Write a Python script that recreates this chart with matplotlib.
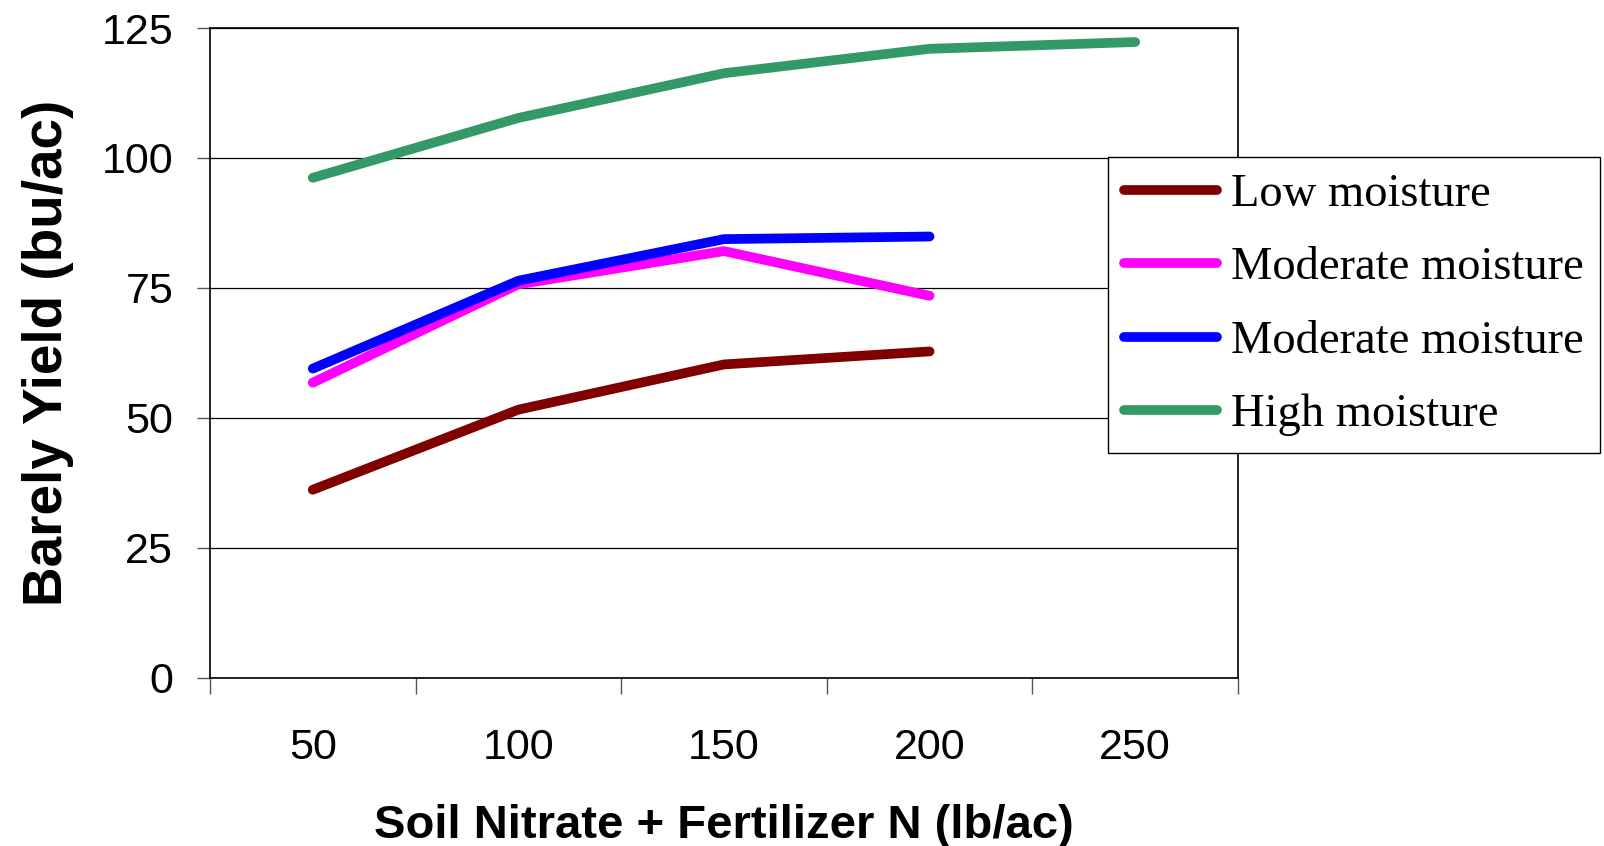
import numpy as np
import matplotlib
matplotlib.use('Agg')
from matplotlib import pyplot as plt
from matplotlib.ticker import FixedLocator

# data
n_rates = ['50', '100', '150', '200', '250']
low = [36.2, 51.6, 60.3, 62.8]
moderate_a = [56.8, 75.7, 82.1, 73.5]
moderate_b = [59.5, 76.4, 84.4, 84.9]
high = [96.2, 107.7, 116.3, 121.0, 122.3]

series_names = ['Low moisture', 'Moderate moisture', 'Moderate moisture', 'High moisture']
series_colors = ['#800000', '#FF00FF', '#0000FF', '#339966']
yticks = [0, 25, 50, 75, 100, 125]

fig = plt.figure(figsize=(16.04, 8.46), dpi=100)
ax = fig.add_axes([0.1309, 0.1986, 0.6409, 0.7683])

for vals, name, col in zip([low, moderate_a, moderate_b, high], series_names, series_colors):
    ax.plot(np.arange(len(vals)), vals, color=col, lw=7, label=name,
            solid_capstyle='round', solid_joinstyle='round', zorder=3)

ax.set_xlim(-0.5, len(n_rates) - 0.5)
ax.set_ylim(0, 125)
ax.set_yticks(yticks)
ax.set_xticks(np.arange(len(n_rates)))
ax.set_xticklabels(n_rates)
ax.xaxis.set_minor_locator(FixedLocator(np.arange(len(n_rates) + 1) - 0.5))

ax.tick_params(axis='x', which='major', length=0, pad=36, labelsize=31,
               labelfontfamily='Liberation Sans')
ax.tick_params(axis='x', which='minor', length=11.5, width=1, color='#555555', direction='out')
ax.tick_params(axis='y', which='major', length=9.5, width=1, direction='out', pad=17,
               labelsize=31, labelfontfamily='Liberation Sans', color='#555555')

ax.grid(axis='y', color='black', lw=0.9, zorder=1)
for s in ax.spines.values():
    s.set_color('black')
    s.set_linewidth(1.2)

ax.set_xlabel('Soil Nitrate + Fertilizer N (lb/ac)', fontsize=34, fontweight='bold',
              family='Liberation Sans', labelpad=26)
ax.set_ylabel('Barely Yield (bu/ac)', fontsize=39.5, fontweight='bold',
              family='Liberation Sans', labelpad=20)

leg = fig.legend(loc='upper left', bbox_to_anchor=(0.6908, 0.8144),
                 prop={'family': 'Liberation Serif', 'size': 33.5},
                 frameon=True, fancybox=False, framealpha=1, edgecolor='black',
                 handlelength=2.0, handletextpad=0.3, labelspacing=0.665,
                 borderpad=0.35, borderaxespad=0)
leg.get_frame().set_linewidth(1)
for h in leg.get_lines():
    h.set_solid_capstyle('round')

fig.savefig('out.png', dpi=100)
